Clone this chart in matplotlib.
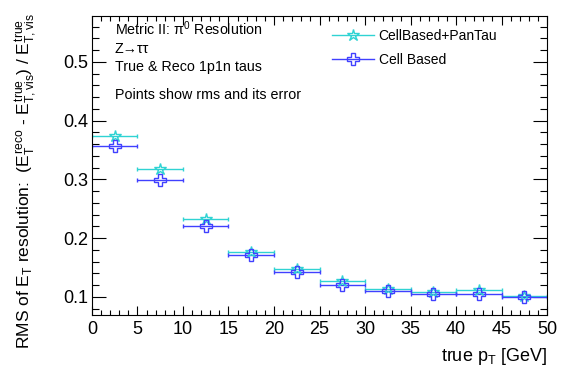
import numpy as np
import matplotlib
matplotlib.use("Agg")
import matplotlib.pyplot as plt
from matplotlib.ticker import MultipleLocator
from matplotlib.lines import Line2D

plt.rcParams['font.family'] = ['Liberation Sans', 'DejaVu Sans']
plt.rcParams['mathtext.fontset'] = 'custom'
plt.rcParams['mathtext.rm'] = 'Liberation Sans'
plt.rcParams['mathtext.it'] = 'Liberation Sans'
plt.rcParams['mathtext.sf'] = 'Liberation Sans'

# bins in true pT [GeV]
pt_centers = [2.5, 7.5, 12.5, 17.5, 22.5, 27.5, 32.5, 37.5, 42.5, 47.5]
pt_halfwidth = [2.5] * 10

# rms of resolution
rms_pantau = [0.373, 0.318, 0.233, 0.177, 0.148, 0.127, 0.113, 0.109, 0.111, 0.102]
rms_cellbased = [0.357, 0.299, 0.221, 0.172, 0.142, 0.120, 0.110, 0.104, 0.105, 0.099]

c_pantau = '#2fd3d3'
c_cell = '#4040ff'

fig = plt.figure(figsize=(5.64, 3.73), dpi=100)
ax = fig.add_axes([0.163, 0.1555, 0.807, 0.8015])

ax.errorbar(pt_centers, rms_pantau, xerr=pt_halfwidth, fmt='*', ms=9,
            mfc='none', mec=c_pantau, mew=1.0, color=c_pantau, elinewidth=1.0,
            capsize=1.5)
ax.errorbar(pt_centers, rms_cellbased, xerr=pt_halfwidth, fmt='P', ms=8.5,
            mfc='none', mec=c_cell, mew=1.0, color=c_cell, elinewidth=1.0,
            capsize=1.5)

ax.set_xlim(0, 50)
ax.set_ylim(0.069, 0.578)
ax.xaxis.set_major_locator(MultipleLocator(5))
ax.xaxis.set_minor_locator(MultipleLocator(1))
ax.yaxis.set_major_locator(MultipleLocator(0.1))
ax.yaxis.set_minor_locator(MultipleLocator(0.02))
ax.tick_params(axis='both', which='both', direction='in', top=True, right=True,
               labelsize=13, width=0.8)
ax.tick_params(axis='x', which='major', length=6.5, pad=4)
ax.tick_params(axis='x', which='minor', length=3.3)
ax.tick_params(axis='y', which='major', length=10, pad=3)
ax.tick_params(axis='y', which='minor', length=5)
ax.set_yticks([0.1, 0.2, 0.3, 0.4, 0.5])
ax.set_yticklabels(['0.1', '0.2', '0.3', '0.4', '0.5'])

fig.text(0.97, 0.032, 'true $p_{T}$ [GeV]', ha='right', va='baseline', fontsize=13)
fig.text(0.047, 0.515,
         'RMS of $E_{T}$ resolution:  $(E_{T}^{reco}$ - $E_{T,vis}^{true})$ / $E_{T,vis}^{true}$',
         rotation=90, ha='center', va='center', fontsize=12.5)

ax.text(0.05, 0.957, r'Metric II: $\pi^{0}$ Resolution', transform=ax.transAxes,
        fontsize=10.3, va='center')
ax.text(0.05, 0.890, 'Z\u2192\u03c4\u03c4', transform=ax.transAxes, fontsize=10.3, va='center')
ax.text(0.05, 0.829, 'True & Reco 1p1n taus', transform=ax.transAxes, fontsize=10.3, va='center')
ax.text(0.05, 0.736, 'Points show rms and its error', transform=ax.transAxes,
        fontsize=10.3, va='center')

handles = [Line2D([], [], color=c_pantau, marker='*', ms=9, mfc='none', mec=c_pantau, lw=1.0),
           Line2D([], [], color=c_cell, marker='P', ms=8.5, mfc='none', mec=c_cell, lw=1.0)]
ax.legend(handles, ['CellBased+PanTau', 'Cell Based'], loc='upper left',
          bbox_to_anchor=(0.5, 1.0), frameon=False, fontsize=10,
          handlelength=3.0, handletextpad=0.35, labelspacing=0.75)

fig.savefig('out.png', dpi=100)
